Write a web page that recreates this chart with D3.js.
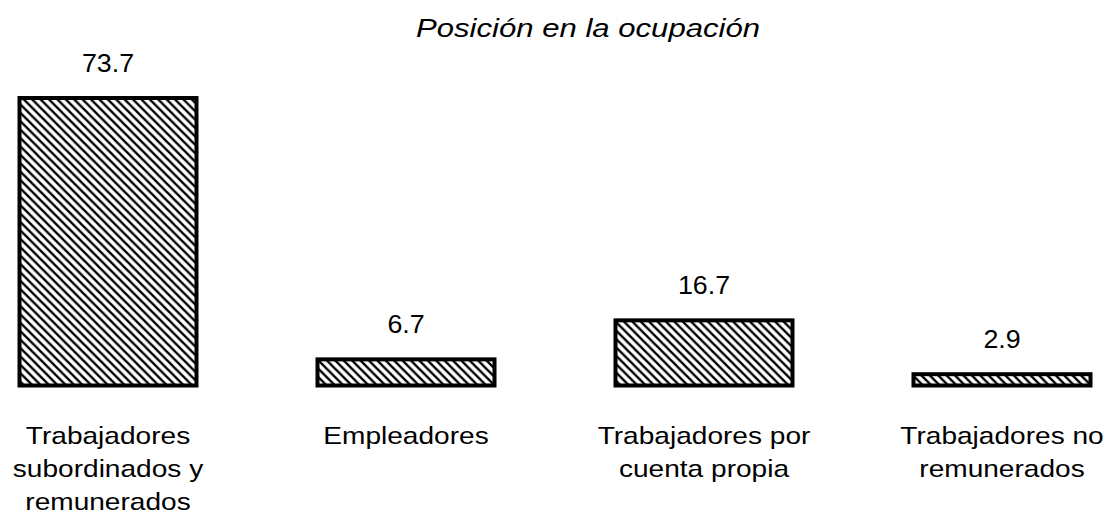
<!DOCTYPE html>
<html>
<head>
<meta charset="utf-8">
<script src="https://cdn.jsdelivr.net/npm/d3@7/dist/d3.min.js"></script>
<style>
  html, body { margin: 0; padding: 0; background: #fff; }
  svg { display: block; }
  text { font-family: "Liberation Sans", Arial, sans-serif; fill: #000; }
</style>
</head>
<body>
<script>
const title = "Posición en la ocupación";
const categories = [
  ["Trabajadores", "subordinados y", "remunerados"],
  ["Empleadores"],
  ["Trabajadores por", "cuenta propia"],
  ["Trabajadores no", "remunerados"]
];
const values = [73.7, 6.7, 16.7, 2.9];
const valueLabels = ["73.7", "6.7", "16.7", "2.9"];

const W = 1112, H = 519;
const svg = d3.select("body").append("svg").attr("width", W).attr("height", H);

const defs = svg.append("defs");
const pat = defs.append("pattern")
  .attr("id", "hatch")
  .attr("patternUnits", "userSpaceOnUse")
  .attr("width", 8.4).attr("height", 8.4);
pat.append("rect").attr("width", 8.4).attr("height", 8.4).attr("fill", "#fff");
pat.append("path")
  .attr("d", "M-1,-1 L9.4,9.4 M-1,7.4 L1,9.4 M7.4,-1 L9.4,1")
  .attr("stroke", "#000").attr("stroke-width", 2.4);

const ids = categories.map((d, i) => i);
const x = d3.scalePoint().domain(ids).range([108, 1002]);
const barW = 177;
const y = d3.scaleLinear().domain([0, 73.7]).range([385.5, 98]);

svg.append("text")
  .attr("transform", "translate(588,37) scale(1.22,1)")
  .attr("text-anchor", "middle")
  .attr("font-size", 25.5)
  .attr("font-style", "italic")
  .text(title);

svg.selectAll("rect.bar").data(values).enter().append("rect")
  .attr("class", "bar")
  .attr("x", (d, i) => x(i) - barW / 2)
  .attr("y", d => y(d))
  .attr("width", barW)
  .attr("height", d => y(0) - y(d))
  .attr("fill", "url(#hatch)")
  .attr("stroke", "#000")
  .attr("stroke-width", 4);

svg.selectAll("text.val").data(values).enter().append("text")
  .attr("class", "val")
  .attr("transform", (d, i) => `translate(${x(i)},${y(d) - 26}) scale(1.05,1)`)
  .attr("text-anchor", "middle")
  .attr("font-size", 25.5)
  .text((d, i) => valueLabels[i]);

categories.forEach((lines, i) => {
  const t = svg.append("text")
    .attr("transform", `translate(${x(i)},444) scale(1.17,1)`)
    .attr("text-anchor", "middle")
    .attr("font-size", 24);
  lines.forEach((ln, j) => {
    t.append("tspan").attr("x", 0).attr("y", j * 33).text(ln);
  });
});
</script>
</body>
</html>
